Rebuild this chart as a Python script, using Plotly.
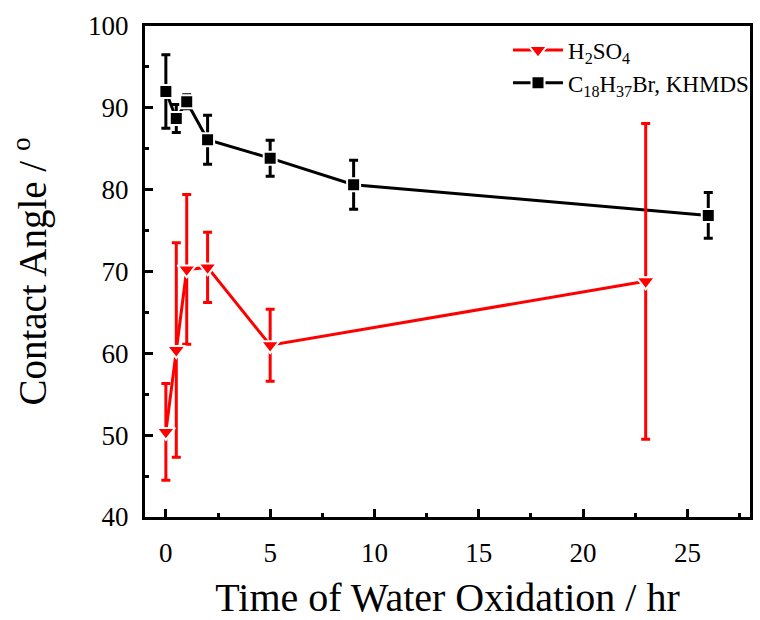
import plotly.graph_objects as go

# Contact angle vs. water-oxidation time for two surface treatments
time_h2so4 = [0, 0.5, 1, 2, 5, 23]
angle_h2so4 = [50.4, 60.4, 70.25, 70.5, 61.0, 68.8]
err_h2so4 = [5.9, 13.1, 9.15, 4.3, 4.4, 19.3]

time_c18 = [0, 0.5, 1, 2, 5, 9, 26]
angle_c18 = [92.0, 88.7, 90.75, 86.1, 83.85, 80.6, 76.85]
err_c18 = [4.5, 1.7, 0.85, 3.0, 2.2, 3.0, 2.8]

x_ticks = [0, 5, 10, 15, 20, 25]
y_ticks = [40, 50, 60, 70, 80, 90, 100]

FONT = "Liberation Serif"

fig = go.Figure()

fig.add_trace(go.Scatter(
    x=time_c18, y=angle_c18,
    mode="lines+markers",
    name="C<sub>18</sub>H<sub>37</sub>Br, KHMDS",
    line=dict(color="black", width=3),
    marker=dict(symbol="square", size=13, color="black",
                line=dict(color="white", width=2)),
    error_y=dict(type="data", array=err_c18, visible=True,
                 color="black", thickness=3, width=4.5),
    legendrank=2,
))

fig.add_trace(go.Scatter(
    x=time_h2so4, y=angle_h2so4,
    mode="lines+markers",
    name="H<sub>2</sub>SO<sub>4</sub>",
    line=dict(color="#ff0000", width=3),
    marker=dict(symbol="triangle-down", size=16, color="#ff0000",
                line=dict(color="white", width=2)),
    error_y=dict(type="data", array=err_h2so4, visible=True,
                 color="#ff0000", thickness=3, width=4.5),
    legendrank=1,
))

axis_common = dict(
    showline=True, linecolor="black", linewidth=3, mirror=True,
    ticks="inside", ticklen=8, tickwidth=3, tickcolor="black",
    showgrid=False, zeroline=False,
    tickfont=dict(family=FONT, size=27, color="black"),
)

fig.update_xaxes(
    range=[-1, 28], tickvals=x_ticks,
    minor=dict(ticks="inside", ticklen=4, tickwidth=3, tickcolor="black", dtick=2.5,
               tick0=0, showgrid=False),
    title=dict(text="Time of Water Oxidation / hr",
               font=dict(family=FONT, size=40, color="black"), standoff=18),
    ticklabelstandoff=10,
    **axis_common,
)
fig.update_yaxes(
    range=[40, 100], tickvals=y_ticks,
    minor=dict(ticks="inside", ticklen=4, tickwidth=3, tickcolor="black", dtick=5,
               tick0=0, showgrid=False),
    title=dict(text="Contact Angle / <sup>o</sup>",
               font=dict(family=FONT, size=39, color="black"), standoff=30),
    ticklabelstandoff=8,
    **axis_common,
)

fig.update_layout(
    width=760, height=620,
    margin=dict(l=145, r=6, t=26, b=100),
    paper_bgcolor="white", plot_bgcolor="white",
    font=dict(family=FONT, color="black"),
    showlegend=True,
    legend=dict(x=0.6, y=0.995, xanchor="left", yanchor="top",
                bgcolor="rgba(0,0,0,0)", borderwidth=0,
                font=dict(family=FONT, size=23, color="black"),
                tracegroupgap=0, itemwidth=50),
)

fig.write_html("out.html")
